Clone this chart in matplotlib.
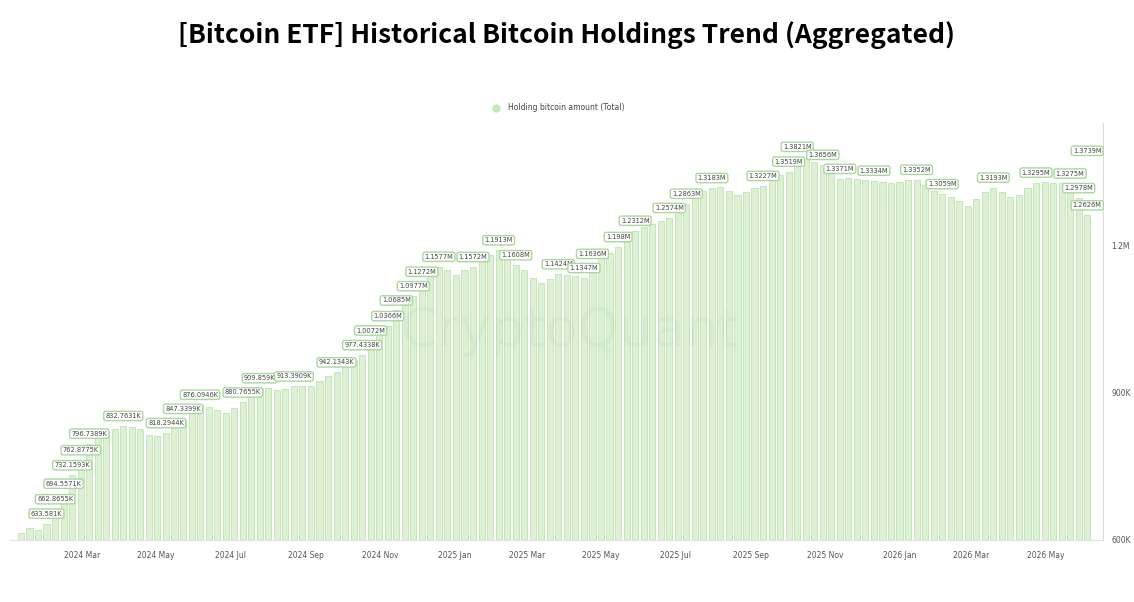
import pandas as pd
import matplotlib
matplotlib.use('Agg')
import matplotlib.pyplot as plt
import matplotlib.dates as mdates

# weekly holdings (thousand BTC), first week 2024-01-11
start = '2024-01-11'
holdings = [
    615, 625, 620, 633.581, 662.8655, 694.5571, 732.1593, 762.8775, 796.7389, 810,
    820, 826, 832.7631, 830, 826, 815, 812, 818.2944, 832, 847.3399,
    862, 876.0946, 872, 866, 860, 870, 880.7655, 895, 909.859, 910,
    906, 908, 913.3909, 915, 915, 925, 935, 942.1343, 955, 968,
    977.4338, 1007.2, 1022, 1036.6, 1068.5, 1085, 1097.7, 1127.2, 1145, 1157.7,
    1150, 1140, 1150, 1157.2, 1170, 1182, 1191.3, 1180, 1160.8, 1150,
    1135, 1125, 1132, 1142.4, 1140, 1138, 1134.7, 1163.6, 1175, 1185,
    1198, 1215, 1231.2, 1238, 1245, 1252, 1257.4, 1272, 1286.3, 1300,
    1312, 1318.3, 1320, 1312, 1305, 1310, 1318, 1322.7, 1335, 1345,
    1351.9, 1382.1, 1378, 1372, 1365.6, 1350, 1337.1, 1338, 1336, 1334,
    1333.4, 1330, 1328, 1330, 1334, 1335.2, 1325, 1312, 1305.9, 1300,
    1292, 1282, 1295, 1310, 1319.3, 1310, 1300, 1305, 1318, 1329.5,
    1330, 1328, 1328, 1327.5, 1297.8, 1262.6,
]
dates = pd.date_range(start, periods=len(holdings), freq='7D')

# labelled points: week index and text
label_idx = [3, 4, 5, 6, 7, 8, 12, 17, 19, 21, 26, 28, 32, 37, 40, 41, 43, 44, 46, 47,
             49, 53, 56, 58, 63, 66, 67, 70, 72, 76, 78, 81, 87, 90, 91, 94, 96, 100,
             105, 108, 114, 119, 123, 124, 125]
label_txt = ['633.581K', '662.8655K', '694.5571K', '732.1593K', '762.8775K', '796.7389K',
             '832.7631K', '818.2944K', '847.3399K', '876.0946K', '880.7655K', '909.859K',
             '913.3909K', '942.1343K', '977.4338K', '1.0072M', '1.0366M', '1.0685M',
             '1.0977M', '1.1272M', '1.1577M', '1.1572M', '1.1913M', '1.1608M', '1.1424M',
             '1.1347M', '1.1636M', '1.198M', '1.2312M', '1.2574M', '1.2863M', '1.3183M',
             '1.3227M', '1.3519M', '1.3821M', '1.3656M', '1.3371M', '1.3334M', '1.3352M',
             '1.3059M', '1.3193M', '1.3295M', '1.3275M', '1.2978M', '1.2626M']
extra_label = ('1.3739M', 1373.9)

fig = plt.figure(figsize=(11.34, 6.02), dpi=100)
ax = fig.add_axes([0.0088, 0.103, 0.9639, 0.6927])

ax.bar(dates, holdings, width=5, color='#dcf0d4', edgecolor='#bfe2b3', linewidth=0.6)

box = dict(boxstyle='round,pad=0.25,rounding_size=0.3', fc='white', ec='#a9d89c', lw=1)
for i, t in zip(label_idx, label_txt):
    ax.annotate(t, (dates[i], holdings[i]), xytext=(0, 5), textcoords='offset points',
                ha='center', va='bottom', fontsize=4.8, color='#444444', bbox=box)
ax.annotate(extra_label[0], (dates[-1], extra_label[1]), xytext=(0, 5),
            textcoords='offset points', ha='center', va='bottom', fontsize=4.8,
            color='#444444', bbox=box)

ax.set_ylim(600, 1451)
ax.set_xlim(pd.Timestamp('2024-01-02'), pd.Timestamp('2026-06-17'))
ax.yaxis.tick_right()
ax.set_yticks([600, 900, 1200])
ax.set_yticklabels(['600K', '900K', '1.2M'])
ax.xaxis.set_major_locator(mdates.MonthLocator(bymonth=[1, 3, 5, 7, 9, 11]))
ax.xaxis.set_major_formatter(mdates.DateFormatter('%Y %b'))
ax.tick_params(length=0, labelsize=5.5, colors='#555555', pad=8)
ax.tick_params(axis='y', pad=6)
for s in ['top', 'left']:
    ax.spines[s].set_visible(False)
ax.spines['right'].set_color('#dcdcdc')
ax.spines['bottom'].set_color('#e3e3e3')

# faint watermark
ax.text(0.512, 0.5, 'CryptoQuant', transform=ax.transAxes, ha='center', va='center',
        fontsize=38, color='#000000', alpha=0.025)

ax.scatter([], [], s=25, color='#c7e6bd', label='Holding bitcoin amount (Total)')
leg = ax.legend(loc='lower center', bbox_to_anchor=(0.5, 1.01), frameon=False,
                fontsize=5.5, handletextpad=0.5)
for t in leg.get_texts():
    t.set_color('#444444')

fig.text(0.5, 0.942, '[Bitcoin ETF] Historical Bitcoin Holdings Trend (Aggregated)',
         ha='center', va='center', fontsize=19, fontweight='bold',
         family=['Noto Sans CJK SC', 'DejaVu Sans'])

fig.savefig('out.png', dpi=100)
